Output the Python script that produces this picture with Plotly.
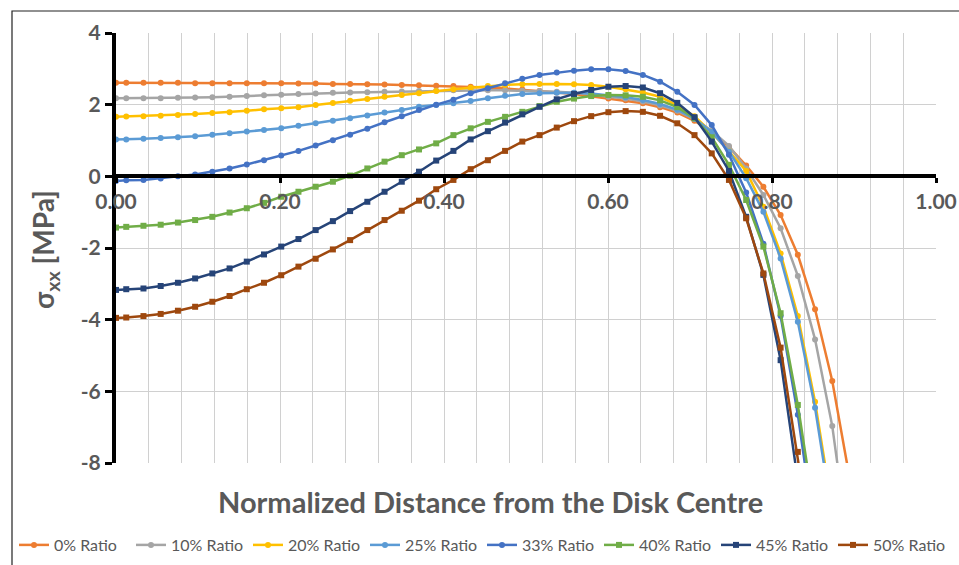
import plotly.graph_objects as go

# Normalized distance from the disk centre (x positions of the computed points)
x_vals = [0.0, 0.0125, 0.0335, 0.0545, 0.0755, 0.0965, 0.1175, 0.1385, 0.1595, 0.1805,
          0.2015, 0.2225, 0.2435, 0.2645, 0.2855, 0.3065, 0.3275, 0.3485, 0.3695, 0.3905,
          0.4115, 0.4325, 0.4535, 0.4745, 0.4955, 0.5165, 0.5375, 0.5585, 0.5795, 0.6005,
          0.6215, 0.6425, 0.6635, 0.6845, 0.7055, 0.7265, 0.7475, 0.7685, 0.7895, 0.8105,
          0.8315, 0.8525, 0.8735, 0.8945]

ratio_0 = [2.61, 2.61, 2.61, 2.61, 2.61, 2.60, 2.60, 2.60, 2.60, 2.60, 2.60,
           2.59, 2.59, 2.58, 2.58, 2.57, 2.56, 2.55, 2.54, 2.53, 2.52,
           2.50, 2.48, 2.45, 2.42, 2.38, 2.34, 2.30, 2.24,
           2.17, 2.12, 2.04, 1.93, 1.78, 1.55, 1.23, 0.82,
           0.30, -0.29, -1.08, -2.19, -3.71, -5.71, -8.4]
ratio_10 = [2.18, 2.18, 2.18, 2.18, 2.19, 2.20, 2.21, 2.22, 2.24, 2.26, 2.28,
            2.30, 2.31, 2.33, 2.34, 2.35, 2.36, 2.37, 2.38, 2.39, 2.40,
            2.40, 2.40, 2.40, 2.39, 2.38, 2.36, 2.33, 2.29,
            2.22, 2.17, 2.09, 1.98, 1.83, 1.60, 1.27, 0.85,
            0.22, -0.52, -1.45, -2.78, -4.55, -6.97, -10.5]
ratio_20 = [1.66, 1.67, 1.68, 1.69, 1.71, 1.74, 1.77, 1.79, 1.83, 1.87, 1.90,
            1.93, 1.99, 2.05, 2.11, 2.16, 2.22, 2.27, 2.32, 2.38, 2.43,
            2.47, 2.52, 2.55, 2.57, 2.58, 2.58, 2.57, 2.55,
            2.50, 2.43, 2.34, 2.22, 1.98, 1.68, 1.22, 0.70,
            0.15, -0.85, -2.15, -3.90, -6.29, -9.3, None]
ratio_25 = [1.03, 1.03, 1.05, 1.07, 1.09, 1.12, 1.16, 1.20, 1.25, 1.29, 1.34,
            1.41, 1.48, 1.55, 1.62, 1.70, 1.78, 1.85, 1.94, 1.99, 2.04,
            2.10, 2.18, 2.25, 2.30, 2.32, 2.33, 2.33, 2.31,
            2.27, 2.21, 2.13, 2.02, 1.86, 1.61, 1.24, 0.69,
            -0.05, -0.99, -2.29, -4.06, -6.46, -9.5, None]
ratio_33 = [-0.13, -0.11, -0.10, -0.06, 0.00, 0.05, 0.13, 0.22, 0.33, 0.45, 0.58,
            0.71, 0.86, 1.01, 1.16, 1.33, 1.51, 1.68, 1.85, 2.00, 2.14,
            2.32, 2.46, 2.60, 2.72, 2.83, 2.90, 2.95, 2.99,
            2.99, 2.94, 2.83, 2.64, 2.36, 1.99, 1.43, 0.60,
            -0.45, -1.88, -3.90, -6.65, -10.0, None, None]
ratio_40 = [-1.43, -1.41, -1.38, -1.35, -1.29, -1.22, -1.13, -1.01, -0.89, -0.74, -0.57,
            -0.43, -0.29, -0.15, 0.02, 0.22, 0.41, 0.59, 0.75, 0.92, 1.15,
            1.34, 1.52, 1.66, 1.80, 1.96, 2.08, 2.17, 2.24,
            2.27, 2.26, 2.22, 2.12, 1.93, 1.62, 1.09, 0.32,
            -0.66, -1.96, -3.82, -6.38, -9.5, None, None]
ratio_45 = [-3.17, -3.15, -3.13, -3.06, -2.97, -2.85, -2.71, -2.57, -2.38, -2.18, -1.96,
            -1.75, -1.50, -1.25, -0.97, -0.71, -0.43, -0.15, 0.13, 0.44, 0.71,
            1.03, 1.26, 1.50, 1.73, 1.94, 2.15, 2.30, 2.41,
            2.50, 2.52, 2.48, 2.32, 2.05, 1.65, 0.97, 0.15,
            -1.13, -2.75, -5.13, -8.5, None, None, None]
ratio_50 = [-3.95, -3.94, -3.90, -3.84, -3.75, -3.64, -3.50, -3.34, -3.15, -2.97, -2.76,
            -2.52, -2.30, -2.04, -1.78, -1.50, -1.22, -0.96, -0.68, -0.36, -0.10,
            0.20, 0.45, 0.71, 0.97, 1.15, 1.36, 1.54, 1.68,
            1.79, 1.82, 1.80, 1.69, 1.48, 1.15, 0.64, -0.10,
            -1.17, -2.71, -4.78, -7.69, -11.0, None, None]

series_names = ["0% Ratio", "10% Ratio", "20% Ratio", "25% Ratio",
                "33% Ratio", "40% Ratio", "45% Ratio", "50% Ratio"]
series_values = [ratio_0, ratio_10, ratio_20, ratio_25, ratio_33, ratio_40, ratio_45, ratio_50]
series_colors = ["#ED7D31", "#A5A5A5", "#FFC000", "#5B9BD5",
                 "#4472C4", "#70AD47", "#264478", "#9E480E"]
series_symbols = ["circle", "circle", "circle", "circle", "circle", "square", "square", "square"]

x_major_step = 0.2      # labelled ticks 0.00 ... 1.00
x_grid_step = 0.04      # vertical gridlines
y_ticks = [4, 2, 0, -2, -4, -6, -8]
y_ticklabels = ["4", "2", "0", "-2", "-4", "-6", "-8"]

FONT = "Lato"
TXT = "#595959"
GRID = "#D0D0D0"

fig = go.Figure()
for name, vals, col, sym in zip(series_names, series_values, series_colors, series_symbols):
    fig.add_trace(go.Scatter(
        x=x_vals, y=vals, name=name, mode="lines+markers",
        line=dict(color=col, width=2.5),
        marker=dict(color=col, symbol=sym, size=6),
    ))

W, H = 959, 565
L, R, T, B = 116, 23, 33, 102
pw, ph = W - L - R, H - T - B

def px(xp):
    return (xp - L) / pw

def py(yp):
    return (H - B - yp) / ph

fig.update_layout(
    width=W, height=H,
    margin=dict(l=L, r=R, t=T, b=B, autoexpand=False),
    paper_bgcolor="white", plot_bgcolor="white",
    font=dict(family=FONT, color=TXT),
    showlegend=True,
    legend=dict(orientation="h", x=px(14), xanchor="left", y=py(545), yanchor="middle",
                entrywidth=72, entrywidthmode="pixels",
                font=dict(family=FONT, size=16, color=TXT),
                bgcolor="rgba(0,0,0,0)", itemclick=False),
    xaxis=dict(range=[0, 1], anchor="free", position=8 / 12, automargin=False,
               tickmode="linear", tick0=0, dtick=x_major_step, tickformat=".2f",
               showgrid=True, gridcolor=GRID, gridwidth=1,
               minor=dict(tickmode="linear", tick0=0, dtick=x_grid_step, showgrid=True,
                          gridcolor=GRID, gridwidth=1, ticks=""),
               showline=True, linecolor="black", linewidth=4,
               ticks="outside", ticklen=5, tickwidth=3, tickcolor="black",
               tickfont=dict(family=FONT, size=21, color=TXT, weight="bold"),
               zeroline=False),
    yaxis=dict(range=[-8, 4], tickmode="array", tickvals=y_ticks, ticktext=y_ticklabels,
               automargin=False,
               showgrid=True, gridcolor=GRID, gridwidth=1,
               showline=True, linecolor="black", linewidth=4,
               ticks="outside", ticklen=7, tickwidth=3, tickcolor="black",
               tickfont=dict(family=FONT, size=21, color=TXT, weight="bold"),
               zeroline=False),
    annotations=[
        dict(text="<b>Normalized Distance from the Disk Centre</b>", xref="paper", yref="paper",
             x=px(490), y=py(502), xanchor="center", yanchor="middle", showarrow=False,
             font=dict(family=FONT, size=29, color=TXT)),
        dict(text="<b>σ<sub>xx</sub> [MPa]</b>", xref="paper", yref="paper",
             x=px(45), y=py(250), xanchor="center", yanchor="middle", showarrow=False,
             textangle=-90, font=dict(family=FONT, size=28, color=TXT)),
    ],
    shapes=[dict(type="rect", xref="paper", yref="paper",
                 x0=px(12), x1=px(975), y0=py(590), y1=py(11),
                 line=dict(color="#222222", width=1.2), fillcolor="rgba(0,0,0,0)", layer="below")],
)

fig.write_html("out.html", config={"displayModeBar": False},
               post_script="document.body.style.margin='0px';")
